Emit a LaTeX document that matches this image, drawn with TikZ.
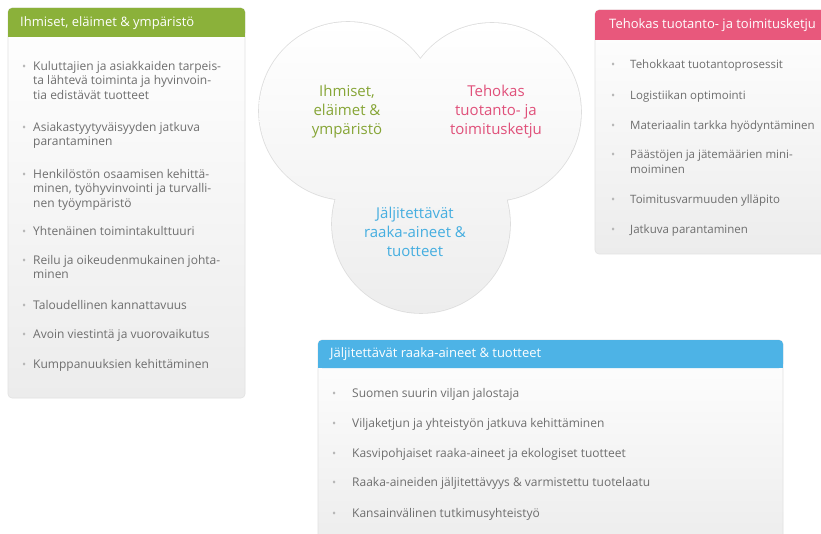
\documentclass[tikz,border=0pt]{standalone}
\usepackage{fontspec}
\setmainfont{Open Sans}
\usetikzlibrary{positioning}

\definecolor{hdrgreen}{HTML}{8BB13A}
\definecolor{hdrpink}{HTML}{E8587C}
\definecolor{hdrblue}{HTML}{4DB3E6}
\definecolor{lobegreen}{HTML}{86A536}
\definecolor{lobepink}{HTML}{E0507A}
\definecolor{lobeblue}{HTML}{45AEE0}
\definecolor{itemgray}{HTML}{6E6E6E}
\definecolor{bulletgray}{HTML}{B8B8B8}
\definecolor{panelline}{HTML}{E2E2E2}
\definecolor{panelbottom}{HTML}{ECECEC}
\definecolor{lobeline}{HTML}{DDDDDD}
\definecolor{lobebottom}{HTML}{EDEDED}

\newcommand{\bul}[1][7pt]{\llap{\textcolor{bulletgray}{\fontsize{11}{11}\selectfont\textbullet}\hspace{#1}}}

\begin{document}
\begin{tikzpicture}[
    x=1pt, y=-1pt,
    panel/.style={
        draw=panelline,
        line width=0.6pt,
        rounded corners=4pt,
        top color=white,
        bottom color=panelbottom
    },
    headtext/.style={
        anchor=west,
        inner sep=0pt,
        text=white,
        font=\fontsize{13}{15}\selectfont
    },
    item/.style={
        anchor=north west,
        inner sep=0pt,
        align=left,
        text=itemgray,
        font=\fontsize{12}{14.5}\selectfont
    },
    lobetext/.style={
        align=center,
        inner sep=0pt,
        font=\fontsize{15}{19}\selectfont
    }
]

\useasboundingbox (0,0) rectangle (821,534);
\clip (0,0) rectangle (821,534);
\fill[white] (0,0) rectangle (821,534);

% ------------------------------------------------
% Three lobes
% ------------------------------------------------

\draw[lobeline, line width=1.6pt] (348,111) circle (89pt) (492,112) circle (89pt) (421,224) circle (89pt);
\shade[top color=white, bottom color=lobebottom] (348,111) circle (89pt) (492,112) circle (89pt) (421,224) circle (89pt);

\node[lobetext, text=lobegreen] (people) at (347,112) {
    Ihmiset,\\eläimet \&\\ympäristö
};

\node[lobetext, text=lobepink] (chain) at (496,112) {
    Tehokas\\tuotanto- ja\\toimitusketju
};

\node[lobetext, text=lobeblue] (trace) at (415,232) {
    Jäljitettävät\\raaka-aineet \&\\tuotteet
};

% ------------------------------------------------
% Left panel
% ------------------------------------------------

\path[panel] (8,8) rectangle (245,398);
\fill[hdrgreen, rounded corners=4pt] (8,8) rectangle (245,37);
\fill[hdrgreen] (8,26) rectangle (245,37);

\node[headtext] (peoplehead) at (20,23) {Ihmiset, eläimet \& ympäristö};

\node[item] (people1) at (33,61) {\bul Kuluttajien ja asiakkaiden tarpeis-\\ta lähtevä toiminta ja hyvinvoin-\\tia edistävät tuotteet};
\node[item] (people2) at (33,122) {\bul Asiakastyytyväisyyden jatkuva\\parantaminen};
\node[item] (people3) at (33,169) {\bul Henkilöstön osaamisen kehittä-\\minen, työhyvinvointi ja turvalli-\\nen työympäristö};
\node[item] (people4) at (33,226) {\bul Yhtenäinen toimintakulttuuri};
\node[item] (people5) at (33,255) {\bul Reilu ja oikeudenmukainen johta-\\minen};
\node[item] (people6) at (33,300) {\bul Taloudellinen kannattavuus};
\node[item] (people7) at (33,329) {\bul Avoin viestintä ja vuorovaikutus};
\node[item] (people8) at (33,359) {\bul Kumppanuuksien kehittäminen};

% ------------------------------------------------
% Right panel
% ------------------------------------------------

\path[panel] (595,10) rectangle (835,254);
\fill[hdrpink, rounded corners=4pt] (595,10) rectangle (835,40);
\fill[hdrpink] (595,28) rectangle (835,40);

\node[headtext] (chainhead) at (609,25) {Tehokas tuotanto- ja toimitusketju};

\node[item, font=\fontsize{11.5}{14.5}\selectfont] (chain1) at (630,60) {\bul[15pt]Tehokkaat tuotantoprosessit};
\node[item, font=\fontsize{11.5}{14.5}\selectfont] (chain2) at (630,91) {\bul[15pt]Logistiikan optimointi};
\node[item, font=\fontsize{11.5}{14.5}\selectfont] (chain3) at (630,121) {\bul[15pt]Materiaalin tarkka hyödyntäminen};
\node[item, font=\fontsize{11.5}{14.5}\selectfont] (chain4) at (630,150) {\bul[15pt]Päästöjen ja jätemäärien mini-\\moiminen};
\node[item, font=\fontsize{11.5}{14.5}\selectfont] (chain5) at (630,195) {\bul[15pt]Toimitusvarmuuden ylläpito};
\node[item, font=\fontsize{11.5}{14.5}\selectfont] (chain6) at (630,225) {\bul[15pt]Jatkuva parantaminen};

% ------------------------------------------------
% Bottom panel
% ------------------------------------------------

\path[panel] (318,340) rectangle (783,550);
\fill[hdrblue, rounded corners=4pt] (318,340) rectangle (783,368);
\fill[hdrblue] (318,356) rectangle (783,368);

\node[headtext] (tracehead) at (330,354) {Jäljitettävät raaka-aineet \& tuotteet};

\node[item] (trace1) at (352,388) {\bul[16pt]Suomen suurin viljan jalostaja};
\node[item] (trace2) at (352,418) {\bul[16pt]Viljaketjun ja yhteistyön jatkuva kehittäminen};
\node[item] (trace3) at (352,448) {\bul[16pt]Kasvipohjaiset raaka-aineet ja ekologiset tuotteet};
\node[item] (trace4) at (352,477) {\bul[16pt]Raaka-aineiden jäljitettävyys \& varmistettu tuotelaatu};
\node[item] (trace5) at (352,508) {\bul[16pt]Kansainvälinen tutkimusyhteistyö};

\end{tikzpicture}
\end{document}
